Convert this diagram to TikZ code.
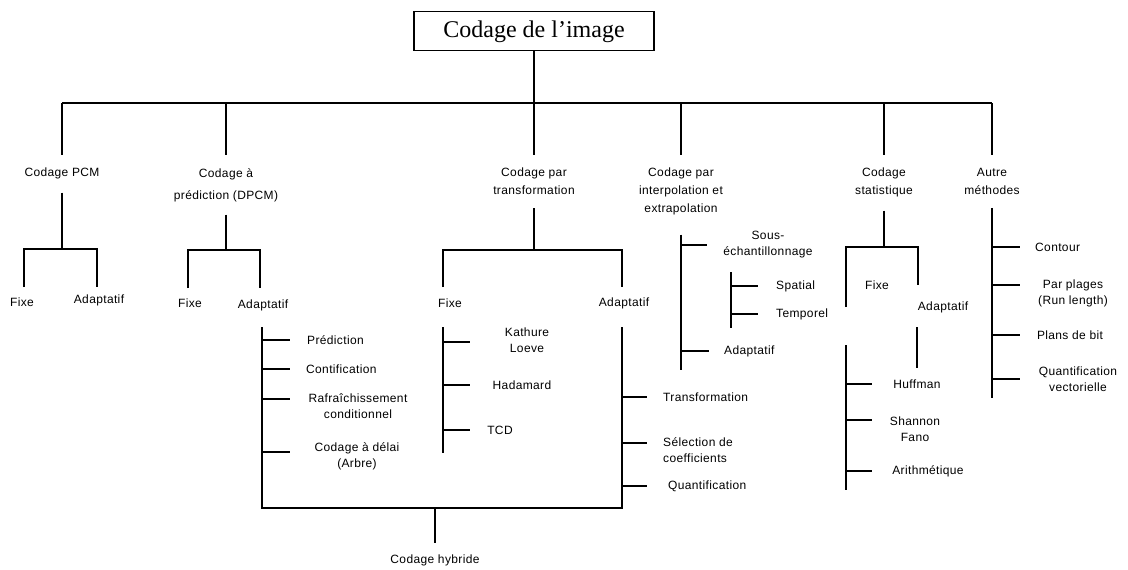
\documentclass[tikz,border=0pt]{standalone}
\usepackage{fontspec}
\setmainfont{Liberation Serif}
\newfontfamily\labfam[LetterSpace=3]{Liberation Sans}
\usetikzlibrary{positioning,calc}
\newcommand\headfont{\labfam\fontsize{12}{18}\selectfont}
\newcommand\leaffont{\labfam\fontsize{12}{16}\selectfont}
\tikzset{wire/.style={line width=1.8pt,draw=black},
  root/.style={draw,line width=1.8pt,font=\fontsize{24}{28}\selectfont,minimum width=240pt,minimum height=39pt,inner sep=0pt,text depth=3pt},
  head/.style={font=\headfont,align=center,anchor=north,inner xsep=1pt,inner ysep=13pt},
  leaf/.style={font=\leaffont,align=center,inner sep=1pt},
  lleaf/.style={leaf,anchor=west,align=left}}

\begin{document}
\begin{tikzpicture}[x=1pt,y=-1pt]
\useasboundingbox (0,0) rectangle (1128,570);
\node[root] (root) at (534,31) {Codage de l’image};
\coordinate (bus) at (534,103);
\node[head] (pcm) at (62,155) {Codage PCM};
\node[head] (dpcm) at (226,155) {Codage à\\[4pt]prédiction (DPCM)};
\node[head] (tr) at (534,155) {Codage par\\transformation};
\node[head] (interp) at (681,155) {Codage par\\interpolation et\\extrapolation};
\node[head] (stat) at (884,155) {Codage\\statistique};
\node[head] (autre) at (992,155) {Autre\\méthodes};
\draw[wire] (root) -- (bus) (pcm.north |- bus) -- (autre.north |- bus);
\foreach \n in {pcm,dpcm,tr,interp,stat,autre} \draw[wire] (\n.north |- bus) -- (\n.north);

\node[leaf] (pcmf) at (22,302) {Fixe};\node[leaf] (pcma) at (99,300) {Adaptatif};
\coordinate (pcmj) at (pcm.south |- 0,249);\coordinate (pcml) at (24,287);\coordinate (pcmr) at (97,287);
\draw[wire] (pcm.south) -- (pcmj) (pcml) |- (pcmj) -| (pcmr);

\node[leaf] (dpf) at (190,303) {Fixe};\node[leaf] (dpa) at (263,305) {Adaptatif};
\coordinate (dpj) at (dpcm.south |- 0,250);\coordinate (dpl) at (188,288);\coordinate (dpr) at (260,288);
\draw[wire] (dpcm.south) -- (dpj) (dpl) |- (dpj) -| (dpr);
\node[lleaf] (pred) at (306,340) {Prédiction};
\node[lleaf] (cont) at (305,369) {Contification};
\node[leaf] (rafr) at (358,406) {Rafraîchissement\\conditionnel};
\node[leaf] (delai) at (357,456) {Codage à délai\\(Arbre)};

\node[leaf] (trf) at (450,303) {Fixe};\node[leaf] (tra) at (624,303) {Adaptatif};
\coordinate (trj) at (tr.south |- 0,250);\coordinate (trl) at (443,287);\coordinate (trr) at (622,287);
\draw[wire] (tr.south) -- (trj) (trl) |- (trj) -| (trr);
\node[leaf] (kl) at (527,340) {Kathure\\Loeve};
\node[leaf] (had) at (522,385) {Hadamard};
\node[leaf] (tcd) at (500,430) {TCD};
\node[lleaf] (trn) at (662,397) {Transformation};
\node[lleaf] (sel) at (662,450) {Sélection de\\coefficients};
\node[lleaf] (qnt) at (667,486) {Quantification};

\coordinate (dpv) at (262,327);\coordinate (tav) at (622,327);\coordinate (hyb) at (435,508);
\node[leaf] (hyl) at (435,560) {Codage hybride};
\draw[wire] (dpv) |- (hyb) -| (tav) (hyb) -- ([yshift=10pt]hyl.north);
\draw[wire] (dpv |- pred) -- +(28,0) (dpv |- cont) -- +(28,0) ($(dpv |- rafr)+(0,-7)$) -- +(28,0) ($(dpv |- delai)+(0,-4)$) -- +(28,0);
\coordinate (tfv) at (443,327);\coordinate (tfb) at (443,453);
\draw[wire] (tfv) -- (tfb) ($(tfv |- kl)+(0,2)$) -- +(27,0) (tfv |- had) -- +(27,0) (tfv |- tcd) -- +(27,0);
\draw[wire] (tav |- trn) -- +(25,0) ($(tav |- sel)+(0,-7)$) -- +(25,0) (tav |- qnt) -- +(25,0);

\coordinate (ib) at (interp.south |- 0,370);
\draw[wire,shorten <=6pt] (interp.south) -- (ib);
\node[leaf] (sous) at (768,245) {Sous-\\échantillonnage};
\node[lleaf] (spa) at (775,286) {Spatial};
\node[lleaf] (tmp) at (775,314) {Temporel};
\node[lleaf] (ia) at (723,351) {Adaptatif};
\coordinate (sv) at (731,272);\coordinate (sb) at (731,328);
\draw[wire] (ib |- sous) -- +(26,0) (ib |- ia) -- +(28,0);
\draw[wire] (sv) -- (sb) (sv |- spa) -- +(27,0) (sv |- tmp) -- +(27,0);

\node[leaf] (sf) at (877,285) {Fixe};\node[leaf] (sa) at (943,307) {Adaptatif};
\coordinate (sj) at (stat.south |- 0,247);\coordinate (sl) at (846,307);\coordinate (sr) at (918,285);
\draw[wire] (stat.south) -- (sj) (sl) |- (sj) -| (sr);
\coordinate (sav) at (917,327);\coordinate (sab) at (917,368);
\draw[wire] (sav) -- (sab);
\node[leaf] (huf) at (917,384) {Huffman};
\node[leaf] (sh) at (915,429) {Shannon\\Fano};
\node[leaf] (ari) at (928,471) {Arithmétique};
\coordinate (slv) at (846,345);\coordinate (slb) at (846,490);
\draw[wire] (slv) -- (slb) (slv |- huf) -- +(26,0) ($(slv |- sh)+(0,-9)$) -- +(26,0) (slv |- ari) -- +(26,0);

\coordinate (ab) at (autre.south |- 0,398);
\draw[wire] (autre.south) -- (ab);
\node[lleaf] (con) at (1034,247) {Contour};
\node[leaf] (pp) at (1073,293) {Par plages\\(Run length)};
\node[leaf] (pb) at (1070,335) {Plans de bit};
\node[leaf] (qv) at (1078,379) {Quantification\\vectorielle};
\draw[wire] (ab |- con) -- +(28,0) ($(ab |- pp)+(0,-8)$) -- +(28,0) (ab |- pb) -- +(28,0) (ab |- qv) -- +(28,0);
\end{tikzpicture}
\end{document}
